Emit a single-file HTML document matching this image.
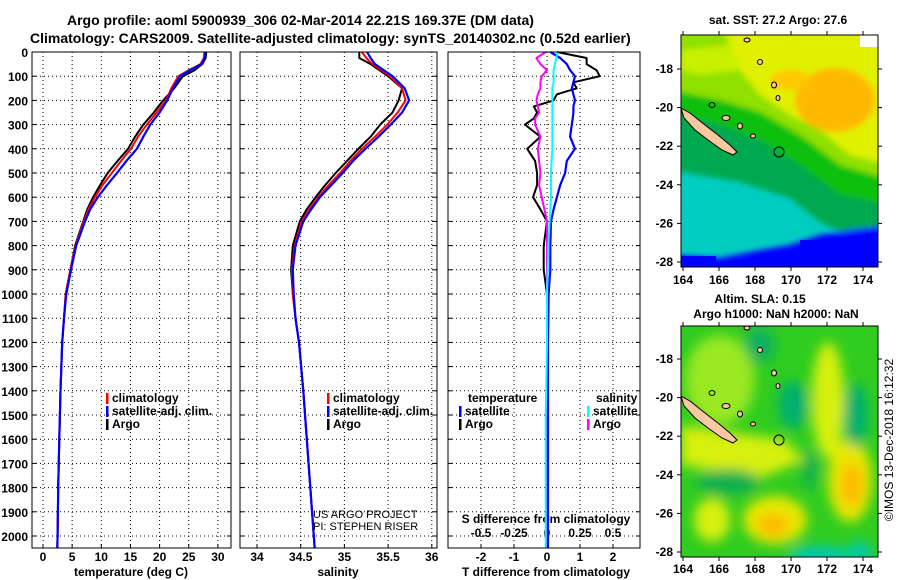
<!DOCTYPE html>
<html><head><meta charset="utf-8"><style>
html,body{margin:0;padding:0;background:#fff;}
svg{display:block;font-family:"Liberation Sans",sans-serif;font-weight:bold;}
</style></head><body>
<svg id="chart" width="900" height="580" viewBox="0 0 900 580">
<defs>
<filter id="blur1" x="-20%" y="-20%" width="140%" height="140%"><feGaussianBlur stdDeviation="3"/></filter>
<filter id="blur2" x="-50%" y="-50%" width="200%" height="200%"><feGaussianBlur stdDeviation="6"/></filter>
<clipPath id="clipTop"><rect x="681" y="35" width="197" height="232"/></clipPath>
<clipPath id="clipBot"><rect x="681" y="326" width="197" height="231"/></clipPath>
</defs>
<text x="67" y="25" font-size="14">Argo profile: aoml 5900939_306 02-Mar-2014 22.21S 169.37E (DM data)</text>
<text x="30" y="43" font-size="14">Climatology: CARS2009. Satellite-adjusted climatology: synTS_20140302.nc (0.52d earlier)</text>
<g id="panels"></g>

<!-- top map -->
<g>
<text x="778" y="24" font-size="12" text-anchor="middle">sat. SST: 27.2 Argo: 27.6</text>
<g clip-path="url(#clipTop)">
<rect x="681" y="35" width="197" height="232" fill="#00cdc0"/>
<g filter="url(#blur1)">
<polygon points="670,20 890,20 890,240 840,232 820,222 790,198 740,182 670,170" fill="#00a850"/>
<polygon points="670,20 890,20 890,205 840,195 800,165 760,140 720,125 670,112" fill="#10c010"/>
<polygon points="670,20 890,20 890,180 840,165 800,135 760,112 720,100 670,90" fill="#90e000"/>
<polygon points="720,20 890,20 890,165 850,155 820,130 790,115 760,95 740,70 730,45" fill="#e0f000"/>
<polygon points="681,50 730,45 740,70 700,75 681,70" fill="#c8f000"/>
<ellipse cx="835" cy="100" rx="40" ry="32" fill="#ffb800"/>
<ellipse cx="790" cy="80" rx="20" ry="10" fill="#ffc800"/>
<polygon points="670,255 720,258 760,250 790,245 820,235 850,230 890,225 890,280 670,280" fill="#0000ff"/>
</g>
<rect x="681" y="256" width="35" height="11" fill="#0000ff"/>
<rect x="800" y="240" width="78" height="27" fill="#0000ff"/>
<rect x="860" y="35" width="18" height="12" fill="#ffffff"/>
<polygon points="681,108 690,113 705,125 718,135 730,145 737,152 733,155 722,150 708,140 695,130 684,118" fill="#f8c8a0" stroke="#000" stroke-width="1"/>
<circle cx="779" cy="152" r="5" fill="none" stroke="#000" stroke-width="1"/>
<ellipse cx="712" cy="105" rx="3" ry="2.5" fill="none" stroke="#000"/>
<ellipse cx="726" cy="118" rx="4" ry="2.5" fill="#f8c8a0" stroke="#000"/>
<ellipse cx="740" cy="126" rx="2.5" ry="3" fill="#f8c8a0" stroke="#000"/>
<ellipse cx="753" cy="136" rx="2.5" ry="2" fill="#f8c8a0" stroke="#000"/>
<ellipse cx="760" cy="62" rx="2.5" ry="2.5" fill="#f8c8a0" stroke="#000"/>
<ellipse cx="774" cy="85" rx="2.5" ry="3" fill="#f8c8a0" stroke="#000"/>
<ellipse cx="778" cy="98" rx="2" ry="2.5" fill="#f8c8a0" stroke="#000"/>
<ellipse cx="747" cy="40" rx="3" ry="2" fill="#f8c8a0" stroke="#000"/>
</g>
<rect x="681" y="35" width="197" height="232" fill="none" stroke="#000"/>
<g id="topMapAxes"></g>
</g>

<!-- bottom map -->
<g>
<text x="760" y="303" font-size="12" text-anchor="middle">Altim. SLA: 0.15</text>
<text x="776" y="318" font-size="12" text-anchor="middle">Argo h1000: NaN h2000: NaN</text>
<g clip-path="url(#clipBot)">
<rect x="681" y="326" width="197" height="231" fill="#30cc20"/>
<g filter="url(#blur2)">
<ellipse cx="720" cy="380" rx="35" ry="45" fill="#99e820"/>
<polygon points="681,425 785,440 805,460 760,478 681,465" fill="#d8f010"/>
<ellipse cx="828" cy="400" rx="16" ry="58" fill="#d8f010"/>
<ellipse cx="850" cy="480" rx="22" ry="42" fill="#e8e800"/>
<ellipse cx="852" cy="485" rx="11" ry="22" fill="#ffb800"/>
<ellipse cx="775" cy="520" rx="32" ry="24" fill="#e8e800"/>
<ellipse cx="773" cy="525" rx="16" ry="11" fill="#ffb800"/>
<ellipse cx="712" cy="520" rx="18" ry="22" fill="#d8f010"/>
<ellipse cx="793" cy="405" rx="15" ry="24" fill="#00b070"/>
<ellipse cx="856" cy="415" rx="12" ry="32" fill="#00b070"/>
<ellipse cx="728" cy="482" rx="32" ry="13" fill="#10b050"/>
<ellipse cx="760" cy="345" rx="15" ry="18" fill="#10b060"/>
<ellipse cx="810" cy="470" rx="8" ry="20" fill="#10b050"/>
<ellipse cx="820" cy="556" rx="32" ry="10" fill="#00c8b0"/>
<ellipse cx="860" cy="552" rx="12" ry="10" fill="#00c8b0"/>
</g>
<polygon points="681,396 690,401 705,413 718,423 730,433 737,440 733,443 722,438 708,428 695,418 684,406" fill="#f8c8a0" stroke="#000"/>
<circle cx="779" cy="440" r="5" fill="none" stroke="#000"/>
<ellipse cx="712" cy="393" rx="3" ry="2.5" fill="none" stroke="#000"/>
<ellipse cx="726" cy="406" rx="4" ry="2.5" fill="#f8c8a0" stroke="#000"/>
<ellipse cx="740" cy="414" rx="2.5" ry="3" fill="#f8c8a0" stroke="#000"/>
<ellipse cx="753" cy="424" rx="2.5" ry="2" fill="#f8c8a0" stroke="#000"/>
<ellipse cx="760" cy="350" rx="2.5" ry="2.5" fill="#f8c8a0" stroke="#000"/>
<ellipse cx="774" cy="373" rx="2.5" ry="3" fill="#f8c8a0" stroke="#000"/>
<ellipse cx="778" cy="386" rx="2" ry="2.5" fill="#f8c8a0" stroke="#000"/>
<ellipse cx="747" cy="328" rx="3" ry="2" fill="#f8c8a0" stroke="#000"/>
</g>
<rect x="681" y="326" width="197" height="231" fill="none" stroke="#000"/>
<g id="botMapAxes"></g>
</g>
<text transform="translate(893,440) rotate(-90)" font-size="12" font-weight="normal" text-anchor="middle">©IMOS 13-Dec-2018 16:12:32</text>
</svg>
<script>
// ---- data ----
const depthT = [0,25,50,75,100,150,200,250,300,350,400,450,500,550,600,650,700,800,900,1000,1100,1200,1400,1600,1800,2000,2050];
const tempClim = [27.7,27.6,27,25,23.2,22,21.1,19.5,17.8,16.3,15.1,13.4,11.8,10.2,8.9,7.8,7.0,5.6,4.7,3.9,3.6,3.3,3.0,2.8,2.6,2.5,2.45];
const tempSat  = [27.8,27.7,27.2,25.2,23.5,22.3,21.3,20,18.4,17.2,16.1,14.3,12.7,11,9.4,8.1,7.2,5.7,4.8,4.0,3.6,3.3,3.0,2.8,2.6,2.5,2.45];
const tempArgo = [28,27.9,27.3,26,24,22.5,20.6,19,17.2,15.8,14.6,12.8,11.1,9.8,8.6,7.6,6.9,5.5,4.7,3.9,3.6,3.3,3.0,2.8,2.6,2.5,2.45];
const salClim = [35.2,35.25,35.32,35.42,35.52,35.66,35.70,35.61,35.49,35.35,35.2,35.07,34.95,34.82,34.70,34.6,34.51,34.43,34.40,34.41,34.44,34.48,34.53,34.57,34.61,34.65,34.66];
const salSat  = [35.26,35.3,35.35,35.45,35.55,35.69,35.74,35.66,35.53,35.39,35.24,35.1,34.98,34.85,34.72,34.62,34.53,34.44,34.41,34.42,34.44,34.48,34.53,34.57,34.61,34.65,34.66];
const salArgo = [35.17,35.17,35.3,35.4,35.5,35.66,35.62,35.55,35.41,35.3,35.16,35.03,34.9,34.78,34.67,34.57,34.49,34.41,34.39,34.41,34.44,34.48,34.53,34.57,34.61,34.65,34.66];
const depthD = [0,25,50,75,100,125,150,175,200,225,250,275,300,350,400,450,500,550,600,650,700,800,900,1000,1200,1500,2000,2050];
const dTArgo = [0.3,1.2,1.2,1.5,1.6,0.8,0.9,0.3,0.2,-0.4,-0.3,-0.4,-0.67,-0.2,-0.6,-0.36,-0.3,-0.3,-0.42,-0.2,0,-0.1,-0.1,0,0,0,0,0];
const dTSat  = [0.1,0.4,0.6,0.7,0.85,0.8,0.75,0.8,0.85,0.8,0.8,0.78,0.75,0.7,0.85,0.6,0.55,0.4,0.3,0.2,0.12,0.1,0.1,0.05,0.03,0.03,0.03,0.03];
const dSArgo = [-0.01,-0.08,-0.05,0,-0.04,-0.05,-0.05,-0.07,-0.08,-0.07,-0.06,-0.09,-0.09,-0.05,-0.07,-0.06,-0.05,-0.06,-0.04,-0.02,0,0,0,0,0,0,0,0];
const dSSat  = [0.08,0.07,0.06,0.05,0.05,0.05,0.04,0.04,0.04,0.04,0.04,0.04,0.04,0.04,0.04,0.035,0.03,0.03,0.03,0.025,0.02,0.01,0.005,0,0,-0.01,-0.01,-0.01];
const depthTicks = [0,100,200,300,400,500,600,700,800,900,1000,1100,1200,1300,1400,1500,1600,1700,1800,1900,2000];
const tempTicks = [0,5,10,15,20,25,30];
const salTicks = [34,34.5,35,35.5,36];
const salTickLabels = ["34","34.5","35","35.5","36"];
const dTTicks = [-2,-1,0,1,2];
const dSTicks = [-0.5,-0.25,0,0.25,0.5];
const dSTickLabels = ["-0.5","-0.25","0","0.25","0.5"];
const lonTicks = [164,166,168,170,172,174];
const latTicks = [-18,-20,-22,-24,-26,-28];

const NS="http://www.w3.org/2000/svg";
const root=document.getElementById('panels');
function mk(tag,attrs,parent,text){const e=document.createElementNS(NS,tag);for(const k in attrs)e.setAttribute(k,attrs[k]);if(text!==undefined)e.textContent=text;(parent||root).appendChild(e);return e;}
const yD = d => 52 + d*0.242;
const xT = t => 43 + t*5.83;
const xS = s => 257 + (s-34)*87.4;
const xDT = v => 547 + v*33;
const xDS = v => 547 + v*132;

function frame(x0,x1,name){
  const g=mk('g',{});
  
  
  depthTicks.forEach(d=>{
    const l=mk('line',{x1:x0,x2:x1,y1:yD(d),y2:yD(d),stroke:'#000','stroke-dasharray':'1,3'},g);
    
    
    mk('line',{x1:x0,x2:x0+4,y1:yD(d),y2:yD(d),stroke:'#000'},g);
    mk('line',{x1:x1-4,x2:x1,y1:yD(d),y2:yD(d),stroke:'#000'},g);
  });
  return g;
}
function vgrid(g,xs,fx){xs.forEach(v=>{const l=mk('line',{x1:fx(v),x2:fx(v),y1:52,y2:548,stroke:'#000','stroke-dasharray':'1,3'},g);
  
  
  mk('line',{x1:fx(v),x2:fx(v),y1:548,y2:544,stroke:'#000'},g);});}
function line(g,xs,ds,fx,color,w,name){
  const p=xs.map((v,i)=>fx(v).toFixed(1)+','+yD(ds[i]).toFixed(1)).join(' ');
  const e=mk('polyline',{points:p,fill:'none',stroke:color,'stroke-width':w,'stroke-linejoin':'round'},g);
  
  
}
function box(g,x0,x1){mk('rect',{x:x0,y:52,width:x1-x0,height:496,fill:'none',stroke:'#000'},g);}
function txt(g,x,y,s,size,anchor,name){const t=mk('text',{x:x,y:y,'font-size':size,'text-anchor':anchor||'start'},g,s);
  
  return t;}
function legend(g,x,y,items){items.forEach((it,i)=>{
  mk('rect',{x:x,y:y+i*13-9,width:2.5,height:11,fill:it[1]},g);
  txt(g,x+6,y+i*13,it[0],12,'start','legend-entry');});}

// panel 1 temperature
let g1=frame(32,231,'temperature-panel');
vgrid(g1,tempTicks,xT);
depthTicks.forEach(d=>txt(g1,28,yD(d)+5,String(d),12,'end','depth-tick-label'));
tempTicks.forEach(t=>txt(g1,xT(t),561,String(t),12,'middle','temperature-tick-label'));
txt(g1,131,576,'temperature (deg C)',12,'middle','x-axis-title');
line(g1,tempArgo,depthT,xT,'#000',2,'temp-argo-line');
line(g1,tempClim,depthT,xT,'#f00',2,'temp-climatology-line');
line(g1,tempSat,depthT,xT,'#00f',2.2,'temp-satellite-line');
box(g1,32,231);
legend(g1,106,402,[['climatology','#f00'],['satellite-adj. clim.','#00f'],['Argo','#000']]);

// panel 2 salinity
let g2=frame(240,437,'salinity-panel');
vgrid(g2,salTicks,xS);
salTicks.forEach((s,i)=>txt(g2,xS(s),561,salTickLabels[i],12,'middle','salinity-tick-label'));
txt(g2,338,576,'salinity',12,'middle','x-axis-title');
line(g2,salArgo,depthT,xS,'#000',2,'sal-argo-line');
line(g2,salClim,depthT,xS,'#f00',2,'sal-climatology-line');
line(g2,salSat,depthT,xS,'#00f',2.2,'sal-satellite-line');
box(g2,240,437);
legend(g2,327,402,[['climatology','#f00'],['satellite-adj. clim.','#00f'],['Argo','#000']]);
const n1=txt(g2,313,518,'US ARGO PROJECT',11,'start','project-credit');n1.setAttribute('font-weight','normal');
const n2=txt(g2,313,530,'PI: STEPHEN RISER',11,'start','pi-credit');n2.setAttribute('font-weight','normal');

// panel 3 differences
let g3=frame(448,640,'difference-panel');
vgrid(g3,dTTicks,xDT);
dTTicks.forEach(t=>txt(g3,xDT(t),561,String(t),12,'middle','t-diff-tick-label'));
dSTicks.forEach((s,i)=>txt(g3,xDS(s),537,dSTickLabels[i],12,'middle','s-diff-tick-label'));
txt(g3,546,523,'S difference from climatology',12,'middle','s-axis-title');
txt(g3,546,576,'T difference from climatology',12,'middle','x-axis-title');
line(g3,dTArgo,depthD,xDT,'#000',2,'t-diff-argo-line');
line(g3,dSArgo,depthD,xDS,'#f0f',2,'s-diff-argo-line');
line(g3,dTSat,depthD,xDT,'#00f',2.2,'t-diff-satellite-line');
line(g3,dSSat,depthD,xDS,'#0ff',2,'s-diff-satellite-line');
box(g3,448,640);
txt(g3,468,402,'temperature',12,'start','legend-heading-temperature');
legend(g3,459,415,[['satellite','#00f'],['Argo','#000']]);
txt(g3,596,402,'salinity',12,'start','legend-heading-salinity');
legend(g3,587,415,[['satellite','#0ff'],['Argo','#f0f']]);

// map axes
function mapAxes(id,yTop,yBot,lat18,labelY){
  const g=document.getElementById(id);
  lonTicks.forEach(l=>{const x=683+(l-164)*18;
    mk('line',{x1:x,x2:x,y1:yBot,y2:yBot+4,stroke:'#000'},g);mk('line',{x1:x,x2:x,y1:yTop,y2:yTop-4,stroke:'#000'},g);
    txt(g,x,labelY,String(l),12,'middle','longitude-tick-label');});
  latTicks.forEach(l=>{const y=lat18+(-18-l)*19.3;
    mk('line',{x1:677,x2:681,y1:y,y2:y,stroke:'#000'},g);mk('line',{x1:878,x2:882,y1:y,y2:y,stroke:'#000'},g);
    txt(g,673,y+4,String(l),12,'end','latitude-tick-label');});
}
mapAxes('topMapAxes',35,267,69,284);
mapAxes('botMapAxes',326,557,359,573);
</script>
</body></html>
